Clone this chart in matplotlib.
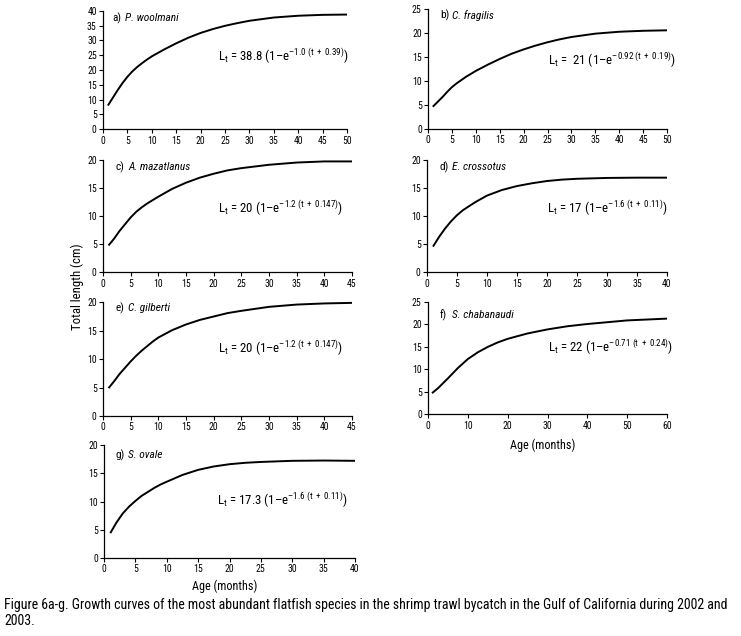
import matplotlib

matplotlib.use("Agg")
import matplotlib.pyplot as plt
from matplotlib import font_manager

# growth curves (age in months, total length in cm)
ages_a = [1, 2, 3, 4, 5, 6, 7, 8, 9, 10, 12.5, 15, 17.5, 20, 22.5, 25, 27.5, 30, 35, 40, 45, 50]
len_a = [8.0, 10.6, 13.2, 15.6, 17.7, 19.5, 21.0, 22.3, 23.5, 24.6, 26.9, 29.0, 30.9, 32.5,
         33.8, 34.9, 35.8, 36.6, 37.7, 38.3, 38.6, 38.7]

ages_b = [1, 2, 3, 4, 5, 6, 7, 8, 9, 10, 12.5, 15, 17.5, 20, 22.5, 25, 27.5, 30, 35, 40, 45, 50]
len_b = [4.6, 5.6, 6.6, 7.7, 8.7, 9.5, 10.2, 10.9, 11.5, 12.1, 13.4, 14.6, 15.7, 16.6,
         17.4, 18.1, 18.7, 19.2, 19.9, 20.3, 20.5, 20.6]

ages_c = [1, 2, 3, 4, 5, 6, 7, 8, 9, 10, 12.5, 15, 17.5, 20, 22.5, 25, 30, 35, 40, 45]
len_c = [4.8, 6.0, 7.4, 8.6, 9.8, 10.8, 11.6, 12.3, 12.9, 13.5, 14.9, 16.0, 16.9, 17.6,
         18.2, 18.6, 19.2, 19.6, 19.8, 19.8]

ages_d = [1, 2, 3, 4, 5, 6, 7, 8, 9, 10, 12.5, 15, 17.5, 20, 22.5, 25, 30, 35, 40]
len_d = [4.6, 6.3, 7.8, 9.1, 10.2, 11.1, 11.8, 12.5, 13.1, 13.7, 14.7, 15.4, 15.9, 16.3,
         16.55, 16.7, 16.85, 16.9, 16.9]

ages_e = [1, 2, 3, 4, 5, 6, 7, 8, 9, 10, 12.5, 15, 17.5, 20, 22.5, 25, 30, 35, 40, 45]
len_e = [4.9, 6.1, 7.4, 8.5, 9.6, 10.6, 11.5, 12.3, 13.1, 13.8, 15.1, 16.1, 16.9, 17.5,
         18.1, 18.5, 19.2, 19.6, 19.8, 19.9]

ages_f = [1, 2.5, 5, 7.5, 10, 12.5, 15, 17.5, 20, 25, 30, 35, 40, 45, 50, 55, 60]
len_f = [4.7, 5.8, 8.0, 10.3, 12.3, 13.8, 15.0, 16.0, 16.8, 18.0, 18.9, 19.6, 20.1, 20.5,
         20.9, 21.1, 21.3]

ages_g = [1, 2, 3, 4, 5, 6, 7, 8, 9, 10, 12.5, 15, 17.5, 20, 22.5, 25, 30, 35, 40]
len_g = [4.4, 6.3, 7.9, 9.1, 10.1, 11.0, 11.7, 12.4, 13.0, 13.5, 14.7, 15.6, 16.2, 16.6,
         16.85, 17.0, 17.2, 17.25, 17.2]

labels = ["a)", "b)", "c)", "d)", "e)", "f)", "g)"]
species = ["P. woolmani", "C. fragilis", "A. mazatlanus", "E. crossotus",
           "C. gilberti", "S. chabanaudi", "S. ovale"]
linf = ["38.8", " 21", "20", "17", "20", "22", "17.3"]
kval = ["-1.0", "-0.92", "-1.2", "-1.6", "-1.2", "-0.71", "-1.6"]
t0val = ["0.39", "0.19", "0.147", "0.11", "0.147", "0.24", "0.11"]
x_max = [50, 50, 45, 40, 45, 60, 40]
x_step = [5, 5, 5, 5, 5, 10, 5]
y_max = [40, 25, 20, 20, 20, 25, 20]


def pick_font():
    names = {f.name for f in font_manager.fontManager.ttflist}
    for cand in ["Liberation Sans Narrow", "Arial Narrow", "Roboto Condensed",
                 "Open Sans Condensed", "Noto Sans Condensed", "DejaVu Sans Condensed"]:
        if cand in names:
            return cand
    return "Liberation Sans"


base = pick_font()
plt.rcParams["font.family"] = [base, "DejaVu Sans"]
plt.rcParams["mathtext.fontset"] = "custom"
plt.rcParams["mathtext.rm"] = base
plt.rcParams["mathtext.it"] = base + ":italic"

W, H = 741, 636
fig = plt.figure(figsize=(W / 100, H / 100), dpi=100)

# axes boxes in pixels: left, top, right, bottom
boxes = [
    (103, 10.7, 347, 129.3),
    (428, 9.3, 667, 128.7),
    (103, 160.3, 352, 272.3),
    (427, 160.3, 667, 272.3),
    (103, 302.3, 352, 416),
    (428, 302, 667, 414.3),
    (104, 445, 355, 558),
]
title_pos = [(0.04, 0.94), (0.05, 0.95), (0.05, 0.94), (0.05, 0.94),
             (0.05, 0.95), (0.05, 0.88), (0.045, 0.91)]
eq_pos = [(0.47, 0.62), (0.5, 0.575), (0.46, 0.57), (0.5, 0.57),
          (0.46, 0.6), (0.5, 0.6), (0.45, 0.51)]

series = [(ages_a, len_a), (ages_b, len_b), (ages_c, len_c), (ages_d, len_d),
          (ages_e, len_e), (ages_f, len_f), (ages_g, len_g)]

for i, (xs, ys) in enumerate(series):
    l, t, r, b = boxes[i]
    ax = fig.add_axes([l / W, 1 - b / H, (r - l) / W, (b - t) / H])
    ax.plot(xs, ys, color="black", linewidth=1.4, clip_on=False,
            solid_joinstyle="round", solid_capstyle="butt")
    ax.set_xlim(0, x_max[i])
    ax.set_ylim(0, y_max[i])
    ax.set_xticks(range(0, x_max[i] + 1, x_step[i]))
    ax.set_yticks(range(0, y_max[i] + 1, 5))
    for side in ("top", "right"):
        ax.spines[side].set_visible(False)
    for side in ("left", "bottom"):
        ax.spines[side].set_linewidth(0.9)
    ax.tick_params(direction="out", length=3, width=0.8, labelsize=7, pad=1.5)

    tx, ty = title_pos[i]
    ax.text(tx, ty, labels[i], transform=ax.transAxes, fontsize=8.2,
            ha="left", va="center")
    ax.annotate(species[i], xy=(tx, ty), xycoords="axes fraction",
                xytext=(9, 0), textcoords="offset points",
                fontsize=8.2, style="italic", ha="left", va="center")

    k = kval[i].replace("-", "\u2013")
    eq = (r"L$_\mathregular{t}$ = " + linf[i] + " (1\u2013e$^{\mathregular{" + k
          + r"\ (t\ +\ " + t0val[i] + r")}}$)")
    ex, ey = eq_pos[i]
    ax.text(ex, ey, eq, transform=ax.transAxes, fontsize=9.3, ha="left", va="center")

fig.text(77 / W, 1 - 286.5 / H, "Total length (cm)", rotation=90,
         ha="center", va="center", fontsize=9.2)
fig.text(543 / W, 1 - 445 / H, "Age (months)", ha="center", va="center", fontsize=8.7)
fig.text(225 / W, 1 - 586 / H, "Age (months)", ha="center", va="center", fontsize=8.7)

fig.text(4 / W, 1 - 605 / H,
         "Figure 6a-g. Growth curves of the most abundant flatfish species in the "
         "shrimp trawl bycatch in the Gulf of California during 2002 and",
         ha="left", va="center", fontsize=10)
fig.text(4 / W, 1 - 621 / H, "2003.", ha="left", va="center", fontsize=10)

fig.savefig("out.png", dpi=100)
plt.close(fig)
